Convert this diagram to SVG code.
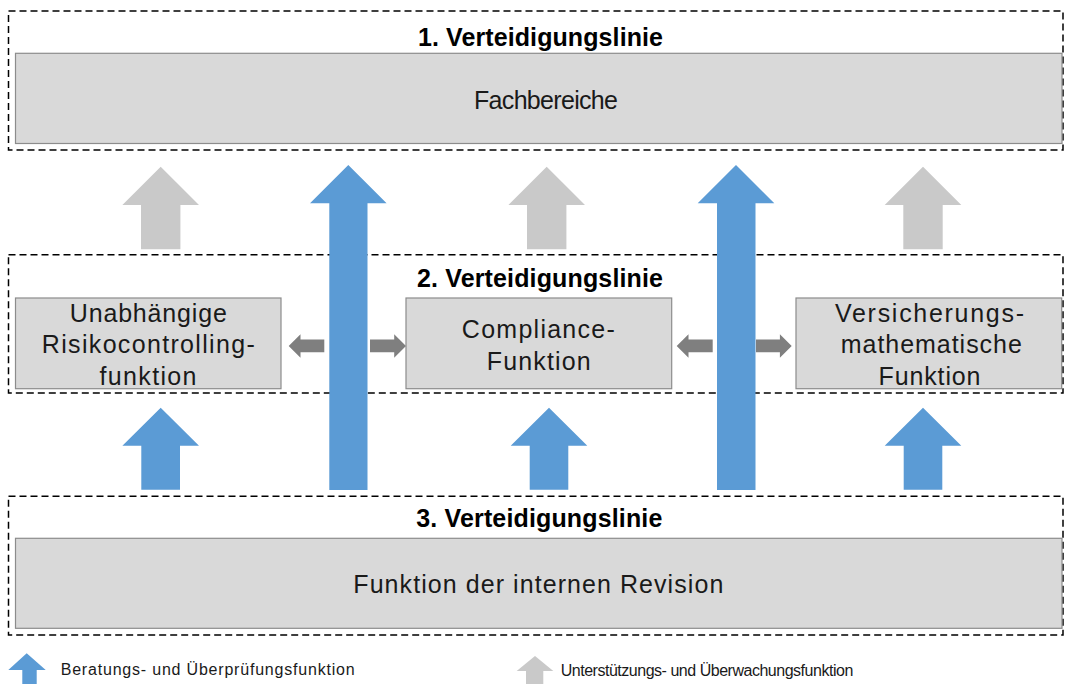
<svg xmlns="http://www.w3.org/2000/svg" width="1065" height="684" viewBox="0 0 1065 684">
<style>
.dash{fill:none;stroke:#000;stroke-width:1.5;stroke-dasharray:7 4}
.box{fill:#D9D9D9;stroke:#8C8C8C;stroke-width:1.2}
.title{font-family:"Liberation Sans",Arial,sans-serif;font-weight:bold;font-size:25px;fill:#000;text-anchor:middle}
.lbl{font-family:"Liberation Sans",Arial,sans-serif;font-size:25px;fill:#1a1a1a;text-anchor:middle}
.leg{font-family:"Liberation Sans",Arial,sans-serif;font-size:16px;fill:#1a1a1a}
.blue{fill:#5B9BD5}
.lgray{fill:#C9C9C9}
.dgray{fill:#7F7F7F}
</style>
<rect width="1065" height="684" fill="#fff"/>

<!-- dashed line groups -->
<g id="line1">
<rect class="dash" x="8.5" y="11" width="1054.5" height="139"/>
<text class="title" x="540.5" y="45.7" textLength="245">1. Verteidigungslinie</text>
</g>
<g id="line2">
<rect class="dash" x="8.5" y="254.7" width="1054.5" height="138.3"/>
<text class="title" x="540" y="286.7" textLength="246">2. Verteidigungslinie</text>
</g>
<g id="line3">
<rect class="dash" x="8.5" y="496.3" width="1054.5" height="138.7"/>
<text class="title" x="539.3" y="526.7" textLength="246">3. Verteidigungslinie</text>
</g>

<g id="fachbereiche">
<rect class="box" x="15.5" y="53.3" width="1046.5" height="90.2"/>
<text class="lbl" x="546" y="109" textLength="144">Fachbereiche</text>
</g>

<g id="risikocontrolling">
<rect class="box" x="15.5" y="298" width="265.5" height="90.7"/>
<text class="lbl" x="148.3" y="321.7" textLength="157">Unabhängige</text>
<text class="lbl" x="148.3" y="353" textLength="213">Risikocontrolling-</text>
<text class="lbl" x="148" y="385" textLength="97">funktion</text>
</g>

<g id="compliance">
<rect class="box" x="406" y="298" width="265.7" height="90.7"/>
<text class="lbl" x="538.3" y="338" textLength="153">Compliance-</text>
<text class="lbl" x="538.7" y="369.5" textLength="104">Funktion</text>
</g>

<g id="versicherungsmathematik">
<rect class="box" x="796" y="298" width="265.7" height="90.7"/>
<text class="lbl" x="929.5" y="321.7" textLength="189">Versicherungs-</text>
<text class="lbl" x="931.3" y="353" textLength="181">mathematische</text>
<text class="lbl" x="929.5" y="385" textLength="102">Funktion</text>
</g>

<g id="revision">
<rect class="box" x="15.5" y="538.3" width="1046.5" height="90"/>
<text class="lbl" x="538.3" y="593.3" textLength="370">Funktion der internen Revision</text>
</g>

<g id="connectors">
<!-- grey support arrows -->
<polygon class="lgray" points="160.7,166.7 199,205 180.4,205 180.4,249.3 141,249.3 141,205 122.4,205"/>
<polygon class="lgray" points="546.7,166.7 585,205 566.4,205 566.4,249.3 527,249.3 527,205 508.4,205"/>
<polygon class="lgray" points="923,166.7 961.3,205 942.7,205 942.7,249.3 903.3,249.3 903.3,205 884.7,205"/>
<!-- tall blue arrows -->
<polygon class="blue" points="348.3,165 386.6,203.3 367.5,203.3 367.5,490 329.3,490 329.3,203.3 310,203.3"/>
<polygon class="blue" points="736,165 774.3,203.3 755.5,203.3 755.5,490 717,490 717,203.3 697.7,203.3"/>
<!-- small blue arrows -->
<polygon class="blue" points="160.7,407.7 199,445.7 180,445.7 180,489.7 141.3,489.7 141.3,445.7 122.4,445.7"/>
<polygon class="blue" points="549,407.7 587.3,445.7 568.3,445.7 568.3,489.7 529.7,489.7 529.7,445.7 510.7,445.7"/>
<polygon class="blue" points="923,407.7 961.3,445.7 942.3,445.7 942.3,489.7 903.7,489.7 903.7,445.7 884.7,445.7"/>
<!-- dark grey horizontal arrows -->
<polygon class="dgray" points="288.7,346 300.5,334.3 300.5,339.5 324.3,339.5 324.3,352.3 300.5,352.3 300.5,357.7"/>
<polygon class="dgray" points="406,346 394.2,334.3 394.2,339.5 370,339.5 370,352.3 394.2,352.3 394.2,357.7"/>
<polygon class="dgray" points="676.7,346 688.5,334.3 688.5,339.5 712.7,339.5 712.7,352.3 688.5,352.3 688.5,357.7"/>
<polygon class="dgray" points="791.7,346 779.9,334.3 779.9,339.5 756,339.5 756,352.3 779.9,352.3 779.9,357.7"/>
</g>

<g id="legend">
<polygon class="blue" points="26.7,653.3 45.7,670 36.7,670 36.7,684 22.3,684 22.3,670 8.3,670"/>
<text class="leg" x="60.7" y="675" textLength="294">Beratungs- und Überprüfungsfunktion</text>
<polygon class="lgray" points="535,656 553.3,671 543.3,671 543.3,684 526,684 526,671 516.7,671"/>
<text class="leg" x="560.7" y="676" textLength="292.6">Unterstützungs- und Überwachungsfunktion</text>
</g>
</svg>
